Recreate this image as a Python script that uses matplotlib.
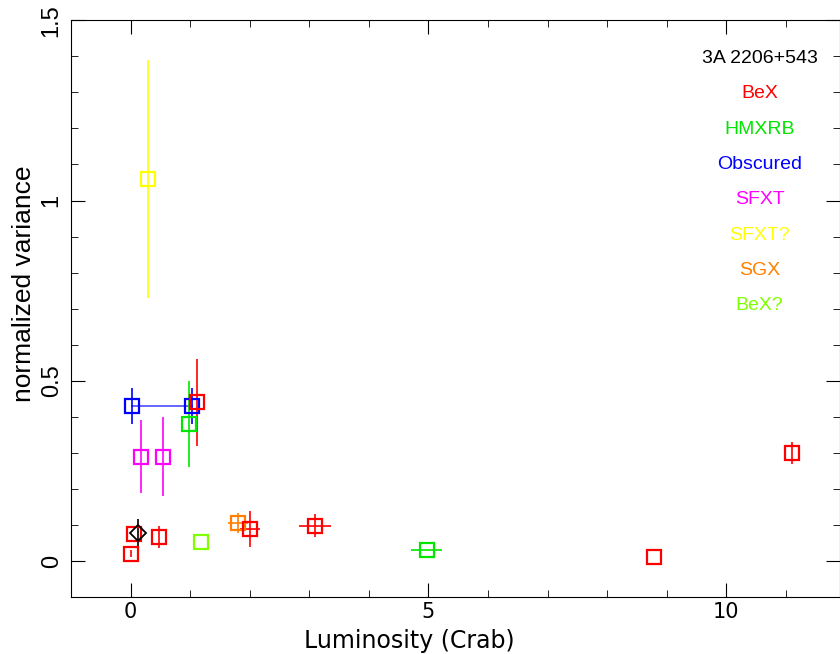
import matplotlib.pyplot as plt
import numpy as np

# luminosity (Crab), normalized variance, errors
bex_x = [0.0, 0.05, 0.47, 1.11, 2.0, 3.09, 8.79, 11.1]
bex_y = [0.02, 0.075, 0.067, 0.44, 0.089, 0.098, 0.011, 0.30]
bex_xerr = [0.0, 0.0, 0.0, 0.0, 0.17, 0.27, 0.0, 0.0]
bex_yerr = [0.01, 0.0, 0.031, 0.12, 0.05, 0.032, 0.0, 0.031]

hmxrb_x = [0.98, 4.97]
hmxrb_y = [0.38, 0.031]
hmxrb_xerr = [0.0, 0.26]
hmxrb_yerr = [0.12, 0.0]

obsc_x = [0.02, 1.03]
obsc_y = [0.43, 0.43]
obsc_yerr = [0.05, 0.05]

sfxt_x = [0.17, 0.54]
sfxt_y = [0.29, 0.29]
sfxt_yerr = [0.1, 0.11]

sfxtq_x = [0.3]
sfxtq_y = [1.06]
sfxtq_yerr = [0.33]

sgx_x = [1.8]
sgx_y = [0.106]
sgx_xerr = [0.17]
sgx_yerr = [0.027]

bexq_x = [1.18]
bexq_y = [0.053]

src_x = [0.13]
src_y = [0.078]
src_yerr = [0.04]

labels = ["3A 2206+543", "BeX", "HMXRB", "Obscured", "SFXT", "SFXT?", "SGX", "BeX?"]
colors = ["black", "#ff0000", "#00e600", "#0000ff", "#ff00ff", "#ffff00", "#ff8000", "#80ff00"]

fig = plt.figure(figsize=(8.4, 6.54), dpi=100)
ax = fig.add_axes([0.0845, 0.087, 0.915, 0.882])

sq = dict(fmt="s", ms=10, mfc="none", mew=1.6, elinewidth=1.2, capsize=0)

ax.plot(obsc_x, obsc_y, color="#0000ff", lw=1.2, alpha=0.7)
ax.errorbar(obsc_x, obsc_y, yerr=obsc_yerr, color="#0000ff", **sq)
ax.errorbar(sfxtq_x, sfxtq_y, yerr=sfxtq_yerr, color="#ffff00", **sq)
ax.errorbar(sfxt_x, sfxt_y, yerr=sfxt_yerr, color="#ff00ff", **sq)
ax.errorbar(hmxrb_x, hmxrb_y, xerr=hmxrb_xerr, yerr=hmxrb_yerr, color="#00e600", **sq)
ax.errorbar(sgx_x, sgx_y, xerr=sgx_xerr, yerr=sgx_yerr, color="#ff8000", **sq)
ax.errorbar(bexq_x, bexq_y, color="#80ff00", **sq)
ax.errorbar(bex_x, bex_y, xerr=bex_xerr, yerr=bex_yerr, color="#ff0000", **sq)
ax.errorbar(src_x, src_y, yerr=src_yerr, fmt="D", ms=8, mfc="none", mew=1.3,
            color="black", elinewidth=1.2, capsize=0)

ax.set_xlim(-1, 11.9)
ax.set_ylim(-0.1, 1.5)
ax.set_xticks([0, 5, 10])
ax.set_xticks(np.arange(-1, 12, 1), minor=True)
ax.set_yticks([0, 0.5, 1, 1.5])
ax.set_yticklabels(["0", "0.5", "1", "1.5"], rotation=90, va="center",
                   family="Liberation Sans", fontsize=17)
ax.set_yticks(np.arange(-0.1, 1.51, 0.1), minor=True)
ax.tick_params(which="both", direction="in", top=True, right=True)
ax.tick_params(axis="x", labelsize=15)
ax.tick_params(axis="y", pad=6)
ax.tick_params(which="major", length=10)
ax.tick_params(which="minor", length=5)
ax.set_xlabel("Luminosity (Crab)", fontsize=17)
ax.xaxis.set_label_coords(0.44, -0.055)
ax.set_ylabel("normalized variance", fontsize=19, family="Liberation Sans")
ax.yaxis.set_label_coords(-0.046, 0.544)

for i, (lab, col) in enumerate(zip(labels, colors)):
    ax.text(0.896, 0.934 - i * 0.0613, lab, color=col, fontsize=14,
            family="Liberation Sans", ha="center", va="center", transform=ax.transAxes)

fig.savefig("out.png", dpi=100)
